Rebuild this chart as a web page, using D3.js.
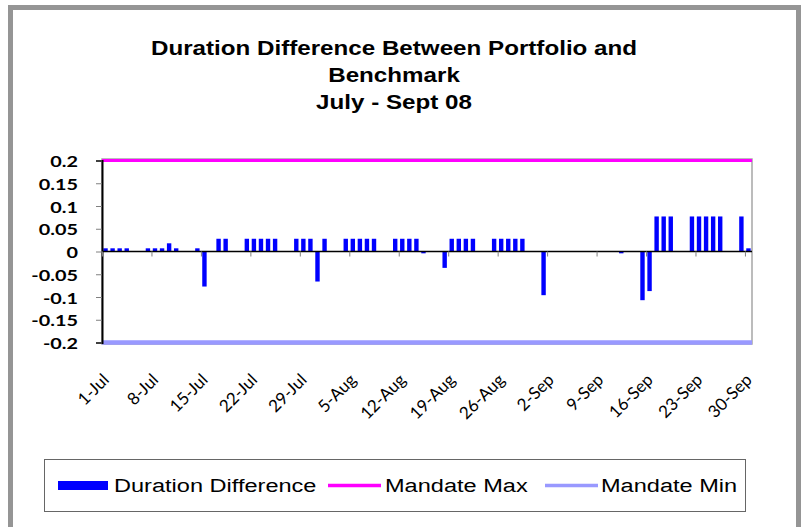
<html>
<head>
  <meta charset="utf-8">
  <script src="https://d3js.org/d3.v7.min.js"></script>
  <style>
    body { margin: 0; background: #fff; }
  </style>
</head>
<body>
  <div id="chart"></div>
  <script>
    // trading days and portfolio minus benchmark duration
    const dates = [
      "2008-07-01", "2008-07-02", "2008-07-03", "2008-07-04",
      "2008-07-07", "2008-07-08", "2008-07-09", "2008-07-10", "2008-07-11",
      "2008-07-14", "2008-07-15", "2008-07-16", "2008-07-17", "2008-07-18",
      "2008-07-21", "2008-07-22", "2008-07-23", "2008-07-24", "2008-07-25",
      "2008-07-28", "2008-07-29", "2008-07-30", "2008-07-31", "2008-08-01",
      "2008-08-04", "2008-08-05", "2008-08-06", "2008-08-07", "2008-08-08",
      "2008-08-11", "2008-08-12", "2008-08-13", "2008-08-14", "2008-08-15",
      "2008-08-18", "2008-08-19", "2008-08-20", "2008-08-21", "2008-08-22",
      "2008-08-25", "2008-08-26", "2008-08-27", "2008-08-28", "2008-08-29",
      "2008-09-01", "2008-09-02", "2008-09-03", "2008-09-04", "2008-09-05",
      "2008-09-08", "2008-09-09", "2008-09-10", "2008-09-11", "2008-09-12",
      "2008-09-15", "2008-09-16", "2008-09-17", "2008-09-18", "2008-09-19",
      "2008-09-22", "2008-09-23", "2008-09-24", "2008-09-25", "2008-09-26",
      "2008-09-29", "2008-09-30"
    ];
    const durationDiff = [
      0.007, 0.007, 0.007, 0.007,
      0.007, 0.007, 0.007, 0.018, 0.007,
      0.007, -0.077, 0, 0.028, 0.028,
      0.028, 0.028, 0.028, 0.028, 0.028,
      0.028, 0.028, 0.028, -0.066, 0.028,
      0.028, 0.028, 0.028, 0.028, 0.028,
      0.028, 0.028, 0.028, 0.028, -0.004,
      -0.036, 0.028, 0.028, 0.028, 0.028,
      0.028, 0.028, 0.028, 0.028, 0.028,
      -0.096, 0, 0, 0, 0,
      0, 0, 0, 0, -0.004,
      -0.107, -0.087, 0.077, 0.077, 0.077,
      0.077, 0.077, 0.077, 0.077, 0.077,
      0.077, 0.007
    ];
    const mandateMax = 0.2;
    const mandateMin = -0.2;
    const yTicks = [0.2, 0.15, 0.1, 0.05, 0, -0.05, -0.1, -0.15, -0.2];
    const xTickDates = ["2008-07-01", "2008-07-08", "2008-07-15", "2008-07-22", "2008-07-29",
      "2008-08-05", "2008-08-12", "2008-08-19", "2008-08-26", "2008-09-02",
      "2008-09-09", "2008-09-16", "2008-09-23", "2008-09-30"];
    const titleLines = ["Duration Difference Between Portfolio and", "Benchmark", "July - Sept 08"];

    const width = 804, height = 527;
    const plot = { left: 102, right: 752, top: 160.5, bottom: 342.5 };
    const SX = 1.24; // the source picture is stretched sideways
    const parse = d3.utcParse("%Y-%m-%d");
    const fmt = d3.utcFormat("%-d-%b");

    const data = dates.map((d, i) => ({ date: parse(d), value: durationDiff[i] }));

    const svg = d3.select("#chart").append("svg")
      .attr("width", width)
      .attr("height", height);

    // outer frame
    svg.append("rect")
      .attr("x", 10.5).attr("y", 7.5)
      .attr("width", 788).attr("height", 540)
      .attr("fill", "#fff")
      .attr("stroke", "#959595")
      .attr("stroke-width", 5);

    // title
    svg.append("g")
      .attr("font-family", "Liberation Sans, Arial, sans-serif")
      .attr("font-weight", "bold")
      .attr("font-size", 19.5)
      .attr("fill", "#000")
      .attr("text-anchor", "middle")
      .selectAll("text")
      .data(titleLines)
      .join("text")
      .attr("transform", (d, i) => `translate(394,${55 + i * 27}) scale(${SX},1)`)
      .text(d => d);

    var x = d3.scaleUtc()
      .domain([parse("2008-07-01"), parse("2008-10-01")])
      .range([plot.left, plot.right]);

    var y = d3.scaleLinear()
      .domain([mandateMin, mandateMax])
      .range([plot.bottom, plot.top]);

    const day = x(parse("2008-07-02")) - x(parse("2008-07-01"));
    const barW = 4.4;

    // plot area border
    svg.append("rect")
      .attr("x", plot.left).attr("y", plot.top - 1.5)
      .attr("width", plot.right - plot.left).attr("height", plot.bottom - plot.top + 3)
      .attr("fill", "none")
      .attr("stroke", "#a6a6a6")
      .attr("stroke-width", 1.5);

    // bars
    svg.append("g")
      .attr("fill", "#0000ff")
      .selectAll("rect")
      .data(data.filter(d => d.value !== 0))
      .join("rect")
      .attr("x", d => x(d.date) + (day - barW) / 2)
      .attr("y", d => y(Math.max(0, d.value)))
      .attr("width", barW)
      .attr("height", d => Math.abs(y(d.value) - y(0)));

    // mandate lines
    svg.append("line")
      .attr("x1", plot.left).attr("x2", plot.right)
      .attr("y1", y(mandateMax)).attr("y2", y(mandateMax))
      .attr("stroke", "#ff00ff").attr("stroke-width", 3);
    svg.append("line")
      .attr("x1", plot.left).attr("x2", plot.right)
      .attr("y1", y(mandateMin)).attr("y2", y(mandateMin))
      .attr("stroke", "#9999ff").attr("stroke-width", 4.5);

    // y axis
    const yAxis = svg.append("g")
      .attr("transform", `translate(${plot.left},0)`)
      .call(d3.axisLeft(y).tickValues(yTicks).tickSize(6).tickFormat(d => String(+d.toFixed(2))));
    yAxis.select(".domain").attr("stroke", "#000").attr("stroke-width", 2);
    yAxis.selectAll(".tick line").attr("stroke", "#808080");
    yAxis.selectAll(".tick text")
      .attr("x", null)
      .attr("dy", null)
      .attr("transform", `translate(-24,0) scale(${SX},1)`)
      .attr("dominant-baseline", "central")
      .attr("font-family", "Lato, sans-serif")
      .attr("font-weight", "bold")
      .attr("font-size", 16)
      .attr("fill", "#000");

    // x axis on the zero line
    const xAxis = svg.append("g")
      .attr("transform", `translate(0,${y(0)})`)
      .call(d3.axisBottom(x).tickValues(xTickDates.map(parse)).tickSize(5).tickFormat(""));
    xAxis.select(".domain").attr("stroke", "#000").attr("stroke-width", 1.5).attr("d", `M${plot.left},0H${plot.right}`);
    xAxis.selectAll(".tick line").attr("stroke", "#808080");

    // rotated date labels below the plot
    svg.append("g")
      .attr("font-family", "Lato, sans-serif")
      .attr("font-size", 17)
      .attr("fill", "#000")
      .attr("text-anchor", "end")
      .selectAll("text")
      .data(xTickDates.map(parse))
      .join("text")
      .attr("transform", d => `translate(${x(d) + 8},381) rotate(-45)`)
      .text(d => fmt(d));

    // legend
    const legend = svg.append("g");
    legend.append("rect")
      .attr("x", 44.5).attr("y", 459.5)
      .attr("width", 701).attr("height", 52)
      .attr("fill", "#fff")
      .attr("stroke", "#666")
      .attr("stroke-width", 1);

    const items = [
      { label: "Duration Difference", x: 58, w: 50, kind: "bar", color: "#0000ff", tx: 114 },
      { label: "Mandate Max", x: 328, w: 53, kind: "line", color: "#ff00ff", tx: 385 },
      { label: "Mandate Min", x: 545, w: 53, kind: "line", color: "#9999ff", tx: 601 }
    ];
    items.forEach(it => {
      if (it.kind === "bar") {
        legend.append("rect")
          .attr("x", it.x).attr("y", 481)
          .attr("width", it.w).attr("height", 9)
          .attr("fill", it.color);
      } else {
        legend.append("line")
          .attr("x1", it.x).attr("x2", it.x + it.w)
          .attr("y1", 485.5).attr("y2", 485.5)
          .attr("stroke", it.color).attr("stroke-width", 3.5);
      }
      legend.append("text")
        .attr("transform", `translate(${it.tx},492) scale(${SX},1)`)
        .attr("font-family", "Liberation Sans, Arial, sans-serif")
        .attr("font-size", 19)
        .attr("fill", "#000")
        .text(it.label);
    });
  </script>
</body>
</html>
